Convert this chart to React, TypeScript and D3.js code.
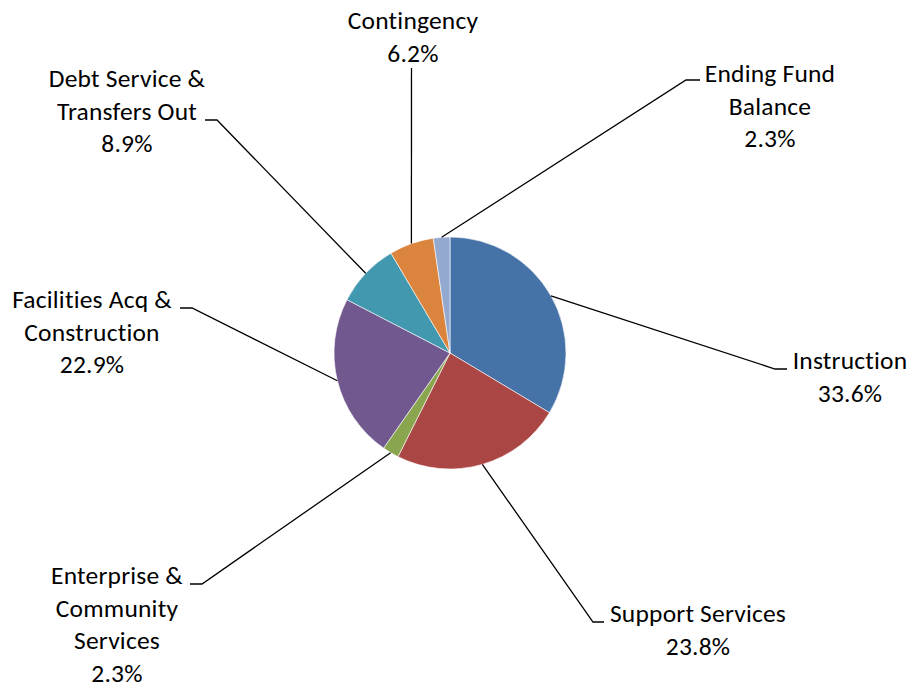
import React from "react";
import * as d3 from "d3";

const categories = [
  "Instruction",
  "Support Services",
  "Enterprise & Community Services",
  "Facilities Acq & Construction",
  "Debt Service & Transfers Out",
  "Contingency",
  "Ending Fund Balance",
];
const values = [33.6, 23.8, 2.3, 22.9, 8.9, 6.2, 2.3];
const labelLines = [
  ["Instruction"],
  ["Support Services"],
  ["Enterprise &", "Community", "Services"],
  ["Facilities Acq &", "Construction"],
  ["Debt Service &", "Transfers Out"],
  ["Contingency"],
  ["Ending Fund", "Balance"],
];
const colors = ["#4572A7", "#AA4643", "#89A54E", "#71588F", "#4198AF", "#DB843D", "#93A9CF"];

// label layout: text center x, first baseline y, leader horizontal segment (x1 near text, x2 elbow, y)
const labelLayout = [
  { cx: 850, y0: 369, x1: 787, x2: 775, hy: 369 },
  { cx: 698, y0: 622, x1: 604, x2: 593, hy: 622 },
  { cx: 117, y0: 584, x1: 190, x2: 202, hy: 584 },
  { cx: 92, y0: 308, x1: 180, x2: 192, hy: 308 },
  { cx: 127, y0: 87, x1: 205, x2: 217, hy: 120 },
  { cx: 413, y0: 29, x1: 411.5, x2: 411.5, hy: 68 },
  { cx: 770, y0: 82, x1: 700, x2: 686, hy: 80 },
];

const W = 911;
const H = 685;
const CX = 450;
const CY = 353;
const R = 116;
const LINE_H = 32.5;

export default function App() {
  const pie = d3.pie<number>().sort(null).value((d) => d);
  const arcs = pie(values);
  const arc = d3.arc<d3.PieArcDatum<number>>().innerRadius(0).outerRadius(R);

  return (
    <svg width={W} height={H} style={{ position: "absolute", left: 0, top: 0, background: "#fff" }}
      fontFamily="Carlito, Calibri, Lato, sans-serif" fontSize={25.5} letterSpacing={0.2}>
      <g transform={`translate(${CX},${CY})`}>
        {arcs.map((a, i) => (
          <path key={i} d={arc(a) || ""} fill={colors[i]} stroke="#fff" strokeWidth={0.6} />
        ))}
      </g>
      {arcs.map((a, i) => {
        const mid = (a.startAngle + a.endAngle) / 2;
        const ex = CX + R * Math.sin(mid);
        const ey = CY - R * Math.cos(mid);
        const L = labelLayout[i];
        const lines = [...labelLines[i], `${values[i].toFixed(1)}%`];
        return (
          <g key={i}>
            <polyline
              points={`${L.x1},${L.hy} ${L.x2},${L.hy} ${ex},${ey}`}
              fill="none"
              stroke="#000"
              strokeWidth={1.3}
            />
            <text textAnchor="middle" fill="#000">
              {lines.map((t, j) => (
                <tspan key={j} x={L.cx} y={L.y0 + j * LINE_H}>{t}</tspan>
              ))}
            </text>
          </g>
        );
      })}
    </svg>
  );
}
